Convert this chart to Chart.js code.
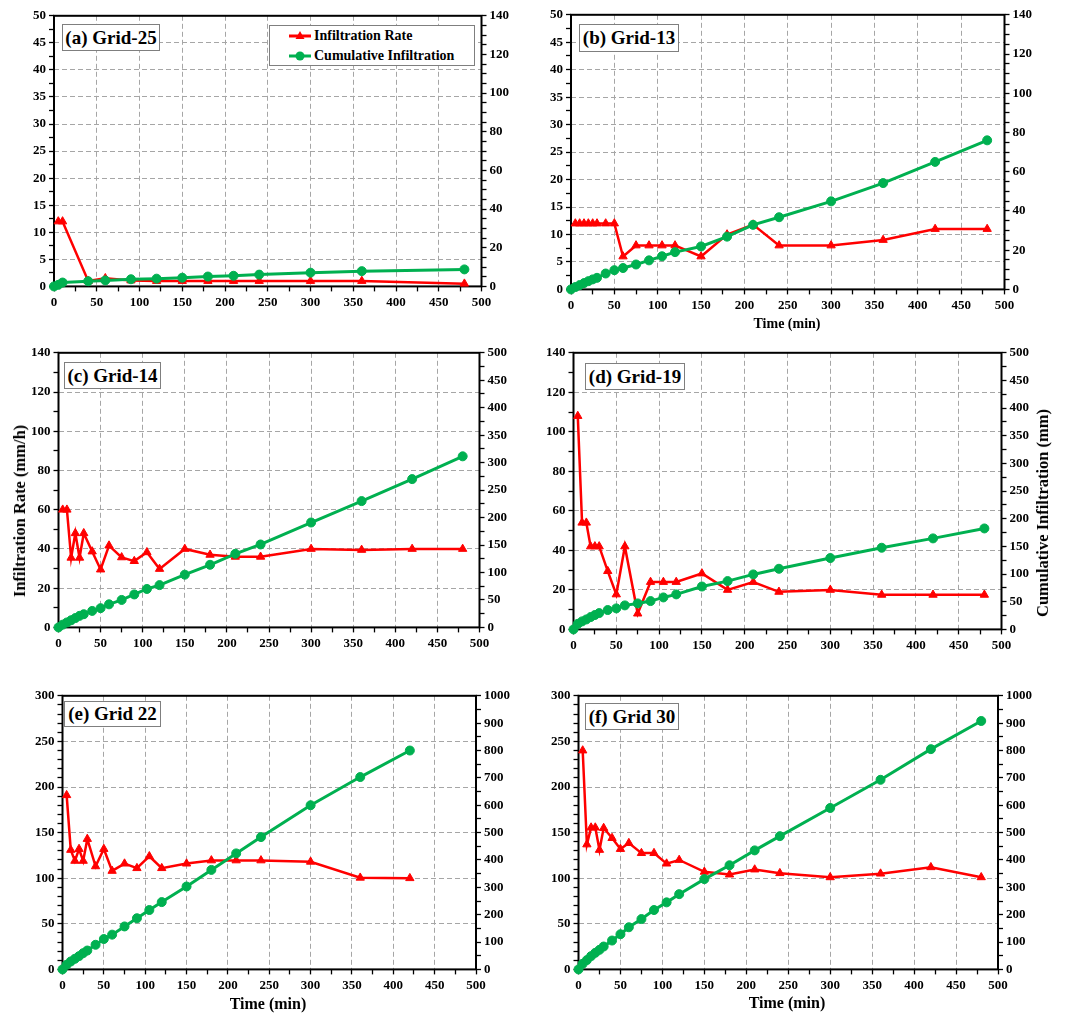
<!DOCTYPE html>
<html>
<head>
<meta charset="utf-8">
<title>Infiltration rate and cumulative infiltration</title>
<script src="https://cdn.jsdelivr.net/npm/chart.js@4.4.1/dist/chart.umd.min.js"></script>
<style>
  html, body { margin: 0; padding: 0; background: #fff; }
  #page { position: relative; width: 1070px; height: 1013px; overflow: hidden; background: #fff; }
  #page canvas { position: absolute; }
  .tag {
    position: absolute; box-sizing: border-box; z-index: 5;
    border: 1.5px solid #7f7f7f; background: #fff; color: #000;
    font: bold 19px "Liberation Serif", "Times New Roman", serif;
    display: flex; align-items: center; justify-content: center; white-space: nowrap;
  }
  .axtitle {
    position: absolute; z-index: 5; white-space: nowrap; color: #000;
    font: bold 16px "Liberation Serif", "Times New Roman", serif;
    transform: translate(-50%, -50%);
  }
  .axtitle.vert { transform: translate(-50%, -50%) rotate(-90deg); }
  .legend {
    position: absolute; box-sizing: border-box; z-index: 5;
    border: 1.5px solid #7f7f7f; background: #fff;
  }
  .legend .row {
    position: absolute; left: 0; height: 18px; display: flex; align-items: center;
    font: bold 14px "Liberation Serif", "Times New Roman", serif; color: #000; white-space: nowrap;
  }
  .legend svg { margin-left: 18px; margin-right: 2px; }
</style>
</head>
<body>
<div id="page"></div>
<script>
// ---- Sampling times (min) ----
const rateTimes = [5, 10, 15, 20, 25, 30, 40, 50, 60, 75, 90, 105, 120, 150, 180, 210, 240, 300, 360, 420, 480];
const cumTimes  = [0, 5, 10, 15, 20, 25, 30, 40, 50, 60, 75, 90, 105, 120, 150, 180, 210, 240, 300, 360, 420, 480];
const rateTimesG25 = [5, 10, 40, 60, 90, 120, 150, 180, 210, 240, 300, 360, 480];
const cumTimesG25  = [0, 5, 10, 40, 60, 90, 120, 150, 180, 210, 240, 300, 360, 480];
const rateTimesG22 = [5, 10, 15, 20, 25, 30, 40, 50, 60, 75, 90, 105, 120, 150, 180, 210, 240, 300, 360, 420];
const cumTimesG22  = [0, 5, 10, 15, 20, 25, 30, 40, 50, 60, 75, 90, 105, 120, 150, 180, 210, 240, 300, 360, 420];

// ---- Infiltration rate (mm/h) ----
const rateG25 = [12, 12, 1.0, 1.5, 1.1, 1.0, 1.0, 1.0, 1.0, 1.0, 1.0, 1.0, 0.5];
const rateG13 = [12, 12, 12, 12, 12, 12, 12, 12, 6, 8, 8, 8, 8, 6, 10, 11.8, 8, 8, 9, 11, 11];
const rateG14 = [60, 60, 35.5, 48, 35.5, 48, 38.7, 29.5, 41.7, 35.7, 33.8, 38.3, 29.8, 40, 37, 36, 36, 40, 39.5, 40, 40];
const rateG19 = [108, 54, 54, 42, 42, 42, 29.5, 17.7, 42, 8, 24, 24, 24, 28.3, 20, 24, 19, 20, 17.5, 17.5, 17.5];
const rateG22 = [191, 131, 119, 132, 119, 143, 113, 132, 108, 116, 111, 124, 111, 116, 119.5, 119.5, 119.5, 118, 100.5, 100];
const rateG30 = [240, 137, 155.5, 155.5, 131, 155, 144, 132, 138.5, 127.5, 127.5, 116, 120, 107, 104, 109.5, 105.5, 101, 105, 112, 101];

// ---- Cumulative infiltration (mm) ----
const cumG25 = [0, 0.8, 2.0, 2.7, 3.1, 3.7, 4.0, 4.5, 5.1, 5.5, 6.1, 7.1, 7.9, 8.8];
const cumG13 = [0, 1.2, 2.2, 3.2, 4.2, 5.1, 5.9, 8.1, 9.8, 10.9, 12.7, 14.8, 16.9, 19, 21.9, 26.9, 32.9, 36.8, 44.9, 54.2, 65, 76];
const cumG14 = [0, 5, 9, 13, 17, 21, 24, 30, 35, 42, 50, 60, 70, 77, 96, 114, 134, 151, 191, 230, 270, 311.5];
const cumG19 = [0, 10, 14.5, 18, 22.3, 26, 29.5, 35, 38, 43.4, 47, 51.2, 57.8, 63.3, 77.5, 87.3, 99.4, 109.6, 129, 147.6, 164.5, 182.5];
const cumG22 = [0, 17, 29, 38.8, 48.5, 59.4, 69, 90, 111, 127, 157, 187, 217, 246, 303, 363.6, 424, 483.6, 600, 703, 800];
const cumG30 = [0, 20.6, 34, 48.5, 60.6, 71.5, 83.6, 105.5, 128.5, 154, 184, 217, 245, 275, 330, 380.6, 435, 487, 590, 693, 805, 908];

// ---- Panel titles and series names ----
const panelTitles = ['(a) Grid-25', '(b) Grid-13', '(c) Grid-14', '(d) Grid-19', '(e) Grid 22', '(f) Grid 30'];
const seriesNames = ['Infiltration Rate', 'Cumulative Infiltration'];
const xTitle = 'Time (min)';
const yLeftTitle = 'Infiltration Rate (mm/h)';
const yRightTitle = 'Cumulative Infiltration (mm)';

// ---- Axis ranges: [max, minor step, major step] ----
const xAxisRange = [500, 25, 50];
const rateAxes = [[50, 2.5, 5], [50, 2.5, 5], [140, 10, 20], [140, 10, 20], [300, 10, 50], [300, 10, 50]];
const cumAxes  = [[140, 5, 20], [140, 5, 20], [500, 25, 50], [500, 25, 50], [1000, 50, 100], [1000, 50, 100]];

// ---- Page layout of each plot area (x, y, w, h) and its title box ----
const plotRects = [
  { x: 54,  y: 16,  w: 427, h: 271 },
  { x: 571, y: 15,  w: 433, h: 275 },
  { x: 58,  y: 353, w: 421, h: 275 },
  { x: 573, y: 353, w: 428, h: 277 },
  { x: 62,  y: 696, w: 413, h: 274 },
  { x: 578, y: 696, w: 419, h: 274 }
];
const tagBoxes = [
  { x: 62,  y: 24,  w: 98,  h: 27 },
  { x: 579, y: 24,  w: 100, h: 28 },
  { x: 64,  y: 362, w: 97,  h: 27 },
  { x: 585, y: 363, w: 100, h: 27 },
  { x: 64,  y: 701, w: 97,  h: 26 },
  { x: 585, y: 703, w: 94,  h: 27 }
];

const series = [
  { rt: rateTimesG25, r: rateG25, ct: cumTimesG25, c: cumG25 },
  { rt: rateTimes,    r: rateG13, ct: cumTimes,    c: cumG13 },
  { rt: rateTimes,    r: rateG14, ct: cumTimes,    c: cumG14 },
  { rt: rateTimes,    r: rateG19, ct: cumTimes,    c: cumG19 },
  { rt: rateTimesG22, r: rateG22, ct: cumTimesG22, c: cumG22 },
  { rt: rateTimes,    r: rateG30, ct: cumTimes,    c: cumG30 }
];

const FONT = '"Liberation Serif", "Times New Roman", serif';
const RED = '#FF0000';
const GREEN = '#00B050';
const page = document.getElementById('page');

const isMajor = (v, m) => Math.abs(v / m - Math.round(v / m)) < 1e-6;

function axis(position, max, minor, major, gridOnArea) {
  return {
    type: 'linear', position, min: 0, max,
    ticks: {
      stepSize: minor, autoSkip: false, maxRotation: 0, minRotation: 0,
      padding: position === 'bottom' ? 3 : 3,
      color: '#000',
      font: { family: FONT, size: 13, weight: 'bold' },
      callback: (v) => (isMajor(v, major) ? String(v) : '')
    },
    grid: {
      drawOnChartArea: gridOnArea,
      color: (c) => (c.tick && isMajor(c.tick.value, major)) ? '#a6a6a6' : 'rgba(0,0,0,0)',
      lineWidth: 1,
      drawTicks: true, tickLength: 5, tickColor: '#000', tickWidth: 1.3, tickBorderDash: []
    },
    border: { display: false, dash: [5, 3] }
  };
}

// black frame round the plot area
const framePlugin = {
  id: 'frame',
  beforeDatasetsDraw(chart) {
    const { ctx, chartArea: a } = chart;
    ctx.save();
    ctx.setLineDash([]);
    ctx.strokeStyle = '#000';
    ctx.lineWidth = 2;
    ctx.strokeRect(a.left, a.top, a.right - a.left, a.bottom - a.top);
    ctx.restore();
  }
};

function chartConfig(i) {
  const s = series[i];
  const [rMax, rMinor, rMajor] = rateAxes[i];
  const [cMax, cMinor, cMajor] = cumAxes[i];
  const [xMax, xMinor, xMajor] = xAxisRange;
  return {
    type: 'line',
    data: {
      datasets: [
        {
          label: seriesNames[0],
          data: s.rt.map((t, k) => ({ x: t, y: s.r[k] })),
          yAxisID: 'y',
          borderColor: RED, backgroundColor: RED, borderWidth: 2.5,
          pointStyle: 'triangle', pointRadius: 4.8, pointBorderWidth: 1,
          pointBackgroundColor: RED, pointBorderColor: RED,
          tension: 0, clip: false, order: 2
        },
        {
          label: seriesNames[1],
          data: s.ct.map((t, k) => ({ x: t, y: s.c[k] })),
          yAxisID: 'y2',
          borderColor: GREEN, backgroundColor: GREEN, borderWidth: 3,
          pointStyle: 'circle', pointRadius: 4.5, pointBorderWidth: 1,
          pointBackgroundColor: GREEN, pointBorderColor: GREEN,
          tension: 0, clip: false, order: 1
        }
      ]
    },
    options: {
      responsive: false,
      animation: false,
      events: [],
      layout: { padding: { top: 10, right: 4, bottom: 2, left: 4 } },
      plugins: { legend: { display: false }, tooltip: { enabled: false } },
      scales: {
        x: axis('bottom', xMax, xMinor, xMajor, true),
        y: axis('left', rMax, rMinor, rMajor, true),
        y2: axis('right', cMax, cMinor, cMajor, false)
      }
    },
    plugins: [framePlugin]
  };
}

function buildPanel(i) {
  const rect = plotRects[i];
  const canvas = document.createElement('canvas');
  page.appendChild(canvas);
  // first pass: measure the space the axes take round the plot area
  canvas.width = 600; canvas.height = 400;
  canvas.style.width = '600px'; canvas.style.height = '400px';
  let chart = new Chart(canvas, chartConfig(i));
  const a = chart.chartArea;
  const padL = a.left, padT = a.top;
  const padR = chart.width - a.right, padB = chart.height - a.bottom;
  chart.destroy();
  // second pass: size the canvas so the plot area lands on its rectangle
  const W = Math.round(rect.w + padL + padR), H = Math.round(rect.h + padT + padB);
  canvas.width = W; canvas.height = H;
  canvas.style.width = W + 'px'; canvas.style.height = H + 'px';
  canvas.style.left = Math.round(rect.x - padL) + 'px';
  canvas.style.top = Math.round(rect.y - padT) + 'px';
  chart = new Chart(canvas, chartConfig(i));

  const b = tagBoxes[i];
  const tag = document.createElement('div');
  tag.className = 'tag';
  tag.style.left = b.x + 'px'; tag.style.top = b.y + 'px';
  tag.style.width = b.w + 'px'; tag.style.height = b.h + 'px';
  tag.textContent = panelTitles[i];
  page.appendChild(tag);
}

function addTitle(text, x, y, size, vertical) {
  const d = document.createElement('div');
  d.className = 'axtitle' + (vertical ? ' vert' : '');
  d.style.left = x + 'px'; d.style.top = y + 'px';
  d.style.fontSize = size + 'px';
  d.textContent = text;
  page.appendChild(d);
}

function legendSymbol(color, shape) {
  const marker = shape === 'triangle'
    ? `<polygon points="12,2 16.5,10 7.5,10" fill="${color}"/>`
    : `<circle cx="12" cy="7" r="4.5" fill="${color}"/>`;
  return `<svg width="24" height="14" viewBox="0 0 24 14"><line x1="1" y1="7" x2="23" y2="7" stroke="${color}" stroke-width="3"/>${marker}</svg>`;
}

function addLegend() {
  const box = document.createElement('div');
  box.className = 'legend';
  box.style.left = '269px'; box.style.top = '25px';
  box.style.width = '206px'; box.style.height = '41px';
  const rows = [
    { name: seriesNames[0], color: RED, shape: 'triangle', top: 1 },
    { name: seriesNames[1], color: GREEN, shape: 'circle', top: 21 }
  ];
  rows.forEach((r) => {
    const row = document.createElement('div');
    row.className = 'row';
    row.style.top = r.top + 'px';
    row.innerHTML = legendSymbol(r.color, r.shape) + '<span>' + r.name + '</span>';
    box.appendChild(row);
  });
  page.appendChild(box);
}

for (let i = 0; i < 6; i++) buildPanel(i);
addLegend();
addTitle(xTitle, 787, 324, 14, false);
addTitle(xTitle, 268, 1004, 16, false);
addTitle(xTitle, 787, 1003, 16, false);
addTitle(yLeftTitle, 20, 511, 16.5, true);
addTitle(yRightTitle, 1043, 513, 16.5, true);
</script>
</body>
</html>
